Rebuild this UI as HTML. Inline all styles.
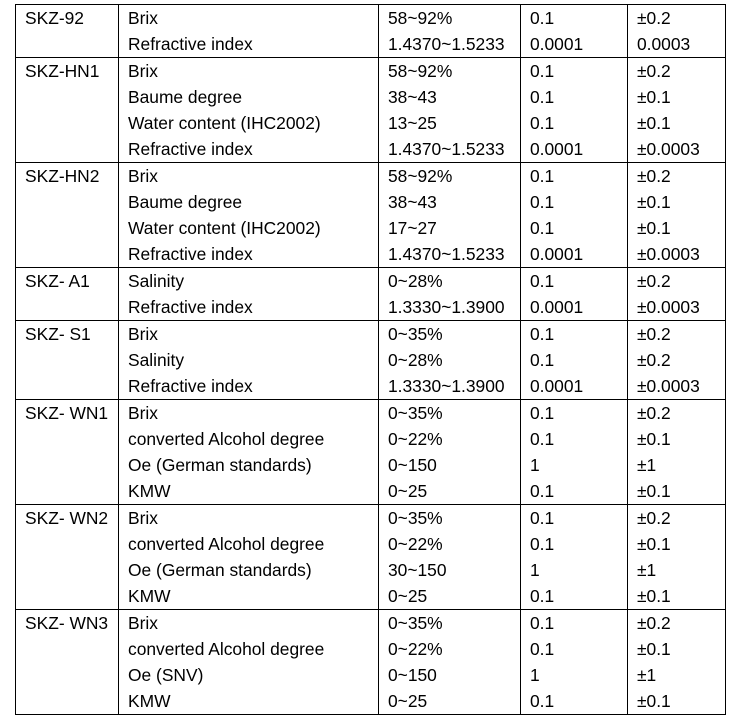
<!DOCTYPE html>
<html><head><meta charset="utf-8"><style>
body{margin:0;width:751px;height:717px;background:#fff;overflow:hidden;font-family:"Liberation Sans",Arial,sans-serif;font-size:17.4px;color:#000;position:relative}
table{position:absolute;left:15px;top:4px;border-collapse:collapse;table-layout:fixed}
td{border:1px solid #000;vertical-align:top;padding:0 0 0 9px;line-height:26px;white-space:nowrap}
</style></head><body>
<table>
<colgroup><col style="width:103px"><col style="width:260px"><col style="width:142px"><col style="width:107px"><col style="width:98px"></colgroup>
<tr><td>SKZ-92</td><td>Brix<br>Refractive index</td><td>58~92%<br>1.4370~1.5233</td><td>0.1<br>0.0001</td><td>±0.2<br>0.0003</td></tr>
<tr><td>SKZ-HN1</td><td>Brix<br>Baume degree<br>Water content (IHC2002)<br>Refractive index</td><td>58~92%<br>38~43<br>13~25<br>1.4370~1.5233</td><td>0.1<br>0.1<br>0.1<br>0.0001</td><td>±0.2<br>±0.1<br>±0.1<br>±0.0003</td></tr>
<tr><td>SKZ-HN2</td><td>Brix<br>Baume degree<br>Water content (IHC2002)<br>Refractive index</td><td>58~92%<br>38~43<br>17~27<br>1.4370~1.5233</td><td>0.1<br>0.1<br>0.1<br>0.0001</td><td>±0.2<br>±0.1<br>±0.1<br>±0.0003</td></tr>
<tr><td>SKZ- A1</td><td>Salinity<br>Refractive index</td><td>0~28%<br>1.3330~1.3900</td><td>0.1<br>0.0001</td><td>±0.2<br>±0.0003</td></tr>
<tr><td>SKZ- S1</td><td>Brix<br>Salinity<br>Refractive index</td><td>0~35%<br>0~28%<br>1.3330~1.3900</td><td>0.1<br>0.1<br>0.0001</td><td>±0.2<br>±0.2<br>±0.0003</td></tr>
<tr><td>SKZ- WN1</td><td>Brix<br>converted Alcohol degree<br>Oe (German standards)<br>KMW</td><td>0~35%<br>0~22%<br>0~150<br>0~25</td><td>0.1<br>0.1<br>1<br>0.1</td><td>±0.2<br>±0.1<br>±1<br>±0.1</td></tr>
<tr><td>SKZ- WN2</td><td>Brix<br>converted Alcohol degree<br>Oe (German standards)<br>KMW</td><td>0~35%<br>0~22%<br>30~150<br>0~25</td><td>0.1<br>0.1<br>1<br>0.1</td><td>±0.2<br>±0.1<br>±1<br>±0.1</td></tr>
<tr><td>SKZ- WN3</td><td>Brix<br>converted Alcohol degree<br>Oe (SNV)<br>KMW</td><td>0~35%<br>0~22%<br>0~150<br>0~25</td><td>0.1<br>0.1<br>1<br>0.1</td><td>±0.2<br>±0.1<br>±1<br>±0.1</td></tr>
</table>
</body></html>
